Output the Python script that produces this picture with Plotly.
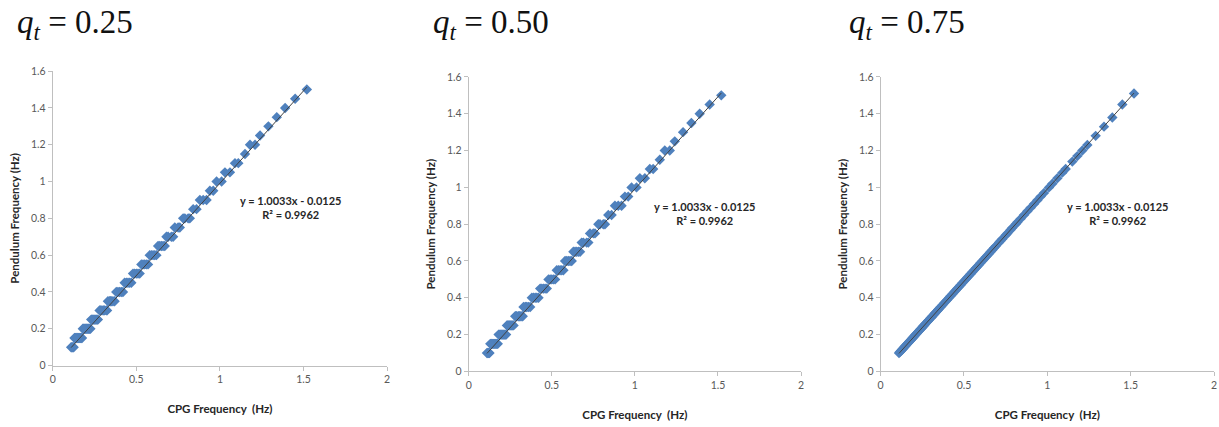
import plotly.graph_objects as go

# CPG frequency (Hz) samples
cpg_freq = [
    1.52, 1.45, 1.39, 1.34, 1.29, 1.24, 1.21, 1.18, 1.15, 1.11,
    1.09, 1.06, 1.03, 1.01, 0.98, 0.96, 0.94, 0.92, 0.90, 0.88,
    0.86, 0.84, 0.82, 0.81, 0.79, 0.78, 0.76, 0.75, 0.73, 0.72,
    0.71, 0.69, 0.68, 0.67, 0.66, 0.65, 0.64, 0.63, 0.62, 0.61,
    0.60, 0.59, 0.58, 0.57, 0.56, 0.55, 0.54, 0.53, 0.52, 0.51,
    0.50, 0.49, 0.48, 0.47, 0.46, 0.45, 0.44, 0.43, 0.42, 0.41,
    0.40, 0.39, 0.38, 0.37, 0.36, 0.35, 0.345, 0.34, 0.33, 0.325,
    0.32, 0.31, 0.305, 0.30, 0.29, 0.285, 0.28, 0.27, 0.265, 0.26,
    0.255, 0.25, 0.245, 0.24, 0.235, 0.23, 0.225, 0.22, 0.215, 0.21,
    0.205, 0.20, 0.195, 0.19, 0.185, 0.18, 0.175, 0.17, 0.165, 0.16,
    0.155, 0.15, 0.145, 0.14, 0.135, 0.13, 0.125, 0.12, 0.115, 0.11,
]

# Pendulum frequency (Hz), q_t = 0.25
pend_q025 = [
    1.50, 1.45, 1.40, 1.35, 1.30, 1.25, 1.20, 1.20, 1.15, 1.10,
    1.10, 1.05, 1.05, 1.00, 1.00, 0.95, 0.95, 0.90, 0.90, 0.90,
    0.85, 0.85, 0.80, 0.80, 0.80, 0.80, 0.75, 0.75, 0.75, 0.70,
    0.70, 0.70, 0.70, 0.65, 0.65, 0.65, 0.65, 0.65, 0.60, 0.60,
    0.60, 0.60, 0.60, 0.55, 0.55, 0.55, 0.55, 0.55, 0.50, 0.50,
    0.50, 0.50, 0.50, 0.45, 0.45, 0.45, 0.45, 0.45, 0.40, 0.40,
    0.40, 0.40, 0.40, 0.35, 0.35, 0.35, 0.35, 0.35, 0.35, 0.30,
    0.30, 0.30, 0.30, 0.30, 0.30, 0.30, 0.30, 0.25, 0.25, 0.25,
    0.25, 0.25, 0.25, 0.25, 0.25, 0.25, 0.20, 0.20, 0.20, 0.20,
    0.20, 0.20, 0.20, 0.20, 0.20, 0.20, 0.15, 0.15, 0.15, 0.15,
    0.15, 0.15, 0.15, 0.15, 0.15, 0.15, 0.10, 0.10, 0.10, 0.10,
]

# Pendulum frequency (Hz), q_t = 0.50
pend_q050 = [
    1.50, 1.45, 1.40, 1.35, 1.30, 1.25, 1.20, 1.20, 1.15, 1.10,
    1.10, 1.05, 1.05, 1.00, 1.00, 0.95, 0.95, 0.90, 0.90, 0.90,
    0.85, 0.85, 0.80, 0.80, 0.80, 0.80, 0.75, 0.75, 0.75, 0.70,
    0.70, 0.70, 0.70, 0.65, 0.65, 0.65, 0.65, 0.65, 0.60, 0.60,
    0.60, 0.60, 0.60, 0.55, 0.55, 0.55, 0.55, 0.55, 0.50, 0.50,
    0.50, 0.50, 0.50, 0.45, 0.45, 0.45, 0.45, 0.45, 0.40, 0.40,
    0.40, 0.40, 0.40, 0.35, 0.35, 0.35, 0.35, 0.35, 0.35, 0.30,
    0.30, 0.30, 0.30, 0.30, 0.30, 0.30, 0.30, 0.25, 0.25, 0.25,
    0.25, 0.25, 0.25, 0.25, 0.25, 0.25, 0.20, 0.20, 0.20, 0.20,
    0.20, 0.20, 0.20, 0.20, 0.20, 0.20, 0.15, 0.15, 0.15, 0.15,
    0.15, 0.15, 0.15, 0.15, 0.15, 0.15, 0.10, 0.10, 0.10, 0.10,
]

# Pendulum frequency (Hz), q_t = 0.75
pend_q075 = [
    1.51, 1.45, 1.38, 1.33, 1.28, 1.23, 1.20, 1.17, 1.14, 1.10,
    1.08, 1.05, 1.02, 1.00, 0.97, 0.95, 0.93, 0.91, 0.89, 0.87,
    0.85, 0.83, 0.81, 0.80, 0.78, 0.77, 0.75, 0.74, 0.72, 0.71,
    0.70, 0.68, 0.67, 0.66, 0.65, 0.64, 0.63, 0.62, 0.61, 0.60,
    0.59, 0.58, 0.57, 0.56, 0.55, 0.54, 0.53, 0.52, 0.51, 0.50,
    0.49, 0.48, 0.47, 0.46, 0.45, 0.44, 0.43, 0.42, 0.41, 0.40,
    0.39, 0.38, 0.37, 0.36, 0.35, 0.34, 0.335, 0.33, 0.32, 0.315,
    0.31, 0.30, 0.295, 0.29, 0.28, 0.275, 0.27, 0.26, 0.255, 0.25,
    0.245, 0.24, 0.235, 0.23, 0.225, 0.22, 0.215, 0.21, 0.205, 0.20,
    0.195, 0.19, 0.185, 0.18, 0.175, 0.17, 0.165, 0.16, 0.155, 0.15,
    0.145, 0.14, 0.135, 0.13, 0.125, 0.12, 0.115, 0.11, 0.105, 0.10,
]

panel_labels = ["0.25", "0.50", "0.75"]
trend_slope = 1.0033
trend_intercept = -0.0125
eq_text = "y = 1.0033x - 0.0125<br>R\u00b2 = 0.9962"

series = [pend_q025, pend_q050, pend_q075]

W, H = 1219, 427
# plot-area pixel boxes (left, right, top, bottom)
boxes = [(50, 386, 67, 370), (468, 802, 73, 376), (882, 1217, 73, 376)]
title_x = [12, 430, 848]

BLUE = "#4F81BD"
AX = "#BFBFBF"
TICKFONT = dict(family="Lato, Open Sans, sans-serif", size=10.5, color="#595959")
TITLEFONT = dict(family="Lato, Open Sans, sans-serif", size=11.5, color="#262626")

fig = go.Figure()
layout = dict(
    width=W, height=H,
    margin=dict(l=0, r=0, t=0, b=0),
    paper_bgcolor="white", plot_bgcolor="white",
    showlegend=False,
    annotations=[],
)

for i, (ys, (l, r, t, b)) in enumerate(zip(series, boxes)):
    sfx = "" if i == 0 else str(i + 1)
    xa, ya = "x" + sfx, "y" + sfx
    fig.add_trace(go.Scatter(
        x=cpg_freq, y=ys, mode="markers", xaxis=xa, yaxis=ya,
        marker=dict(symbol="diamond", size=8, color=BLUE, line=dict(width=0)),
    ))
    x0, x1 = min(cpg_freq), max(cpg_freq)
    fig.add_trace(go.Scatter(
        x=[x0, x1],
        y=[trend_slope * x0 + trend_intercept, trend_slope * x1 + trend_intercept],
        mode="lines", xaxis=xa, yaxis=ya,
        line=dict(color="#404040", width=1),
    ))
    layout["xaxis" + sfx] = dict(
        domain=[l / W, r / W], anchor=ya, range=[0, 2], dtick=0.5,
        showline=True, linecolor=AX, linewidth=1, showgrid=False, zeroline=False,
        ticks="outside", ticklen=4, tickcolor=AX, tickfont=TICKFONT,
        title=dict(text="<b>CPG Frequency\u00a0 (Hz)</b>", font=TITLEFONT, standoff=20),
    )
    layout["yaxis" + sfx] = dict(
        domain=[1 - b / H, 1 - t / H], anchor=xa, range=[0, 1.6], dtick=0.2,
        showline=True, linecolor=AX, linewidth=1, showgrid=False, zeroline=False,
        ticks="outside", ticklen=4, tickcolor=AX, tickfont=TICKFONT,
        title=dict(text="<b>Pendulum Frequency (Hz)</b>", font=TITLEFONT, standoff=8),
    )
    layout["annotations"].append(dict(
        x=1.42, y=0.86, xref=xa, yref=ya, text="<b>" + eq_text + "</b>",
        showarrow=False, align="center",
        font=dict(family="Lato, Open Sans, sans-serif", size=11, color="#262626"),
    ))
    layout["annotations"].append(dict(
        x=title_x[i] / W, y=1 - 19 / H, xref="paper", yref="paper",
        xanchor="left", yanchor="middle", showarrow=False,
        text="<i>q</i><sub><i>t</i></sub> = " + panel_labels[i],
        font=dict(family="Liberation Serif, DejaVu Serif, serif", size=33, color="#111111"),
    ))

fig.update_layout(**layout)
fig.write_html("out.html")
